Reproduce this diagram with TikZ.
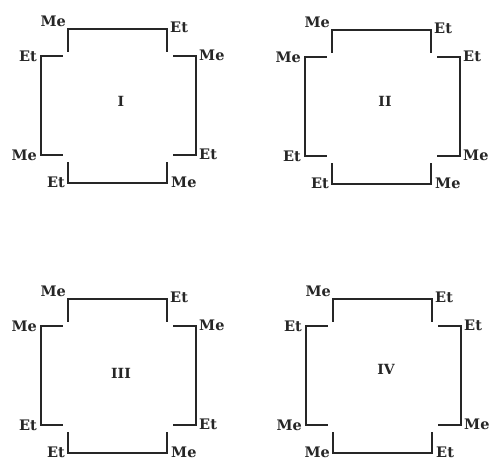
\documentclass[tikz,border=0pt]{standalone}
\usepackage{fontspec}
\newfontfamily\lblfont{DejaVu Serif}
\tikzset{
  frame/.style={line width=1.7pt, line cap=rect, line join=miter, color=black!85},
  lbl/.style={font=\lblfont\fontsize{14.5}{16}\selectfont\bfseries, inner sep=0pt, text=black!85},
  lblE/.style={lbl, anchor=east},
  lblW/.style={lbl, anchor=west},
  numeral/.style={font=\lblfont\fontsize{14}{16}\selectfont\bfseries, inner sep=0pt, text=black!85}
}
\newcommand{\drawframe}{%
  \draw[frame] (68,51)--(68,29)--(167,29)--(167,51);
  \draw[frame] (62,56)--(41,56)--(41,155)--(62,155);
  \draw[frame] (174,56)--(196,56)--(196,155)--(174,155);
  \draw[frame] (68,163)--(68,183)--(167,183)--(167,163);
}
\newcommand{\isolabels}[9]{%
  \node[lblE] (#1-tl) at (66,21) {#2};
  \node[lblW] (#1-tr) at (170,27) {#3};
  \node[lblE] (#1-lu) at (37,56) {#4};
  \node[lblW] (#1-ru) at (199,55) {#5};
  \node[lblE] (#1-ll) at (37,155) {#6};
  \node[lblW] (#1-rl) at (199,154) {#7};
  \node[lblE] (#1-bl) at (65,182) {#8};
  \node[lblW] (#1-br) at (171,182) {#9};
}
\begin{document}
\begin{tikzpicture}[x=1pt,y=-1pt]
\useasboundingbox (0,0) rectangle (489,461);
\fill[white] (0,0) rectangle (489,461);
% I
\begin{scope}[shift={(0,0)}]
  \drawframe
  \isolabels{I}{Me}{Et}{Et}{Me}{Me}{Et}{Et}{Me}
  \node[numeral] (I-num) at (121,101) {I};
\end{scope}
% II
\begin{scope}[shift={(264,1)}]
  \drawframe
  \isolabels{II}{Me}{Et}{Me}{Et}{Et}{Me}{Et}{Me}
  \node[numeral] (II-num) at (121,100) {II};
\end{scope}
% III
\begin{scope}[shift={(0,270)}]
  \drawframe
  \isolabels{III}{Me}{Et}{Me}{Me}{Et}{Et}{Et}{Me}
  \node[numeral] (III-num) at (121,103) {III};
\end{scope}
% IV
\begin{scope}[shift={(265,270)}]
  \drawframe
  \isolabels{IV}{Me}{Et}{Et}{Et}{Me}{Me}{Me}{Et}
  \node[numeral] (IV-num) at (121,99) {IV};
\end{scope}
\end{tikzpicture}
\end{document}
